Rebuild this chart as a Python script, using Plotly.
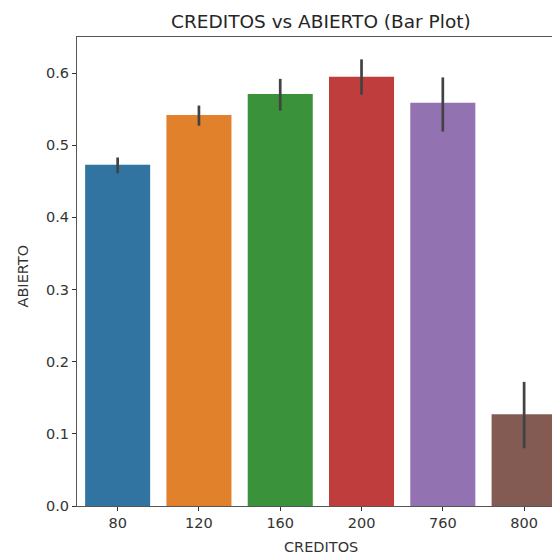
import plotly.graph_objects as go

categories = ["80", "120", "160", "200", "760", "800"]
means = [0.473, 0.542, 0.571, 0.595, 0.559, 0.127]
ci_low = [0.461, 0.527, 0.548, 0.570, 0.519, 0.080]
ci_high = [0.483, 0.555, 0.592, 0.619, 0.594, 0.172]
colors = ["#3274a1", "#e1812c", "#3a923a", "#c03d3e", "#9372b2", "#845b53"]

err_plus = [h - m for h, m in zip(ci_high, means)]
err_minus = [m - l for m, l in zip(means, ci_low)]

fig = go.Figure()
fig.add_trace(go.Bar(
    x=categories, y=means, width=0.8,
    marker=dict(color=colors, line=dict(width=0)),
    error_y=dict(type="data", symmetric=False, array=err_plus, arrayminus=err_minus,
                 color="#424242", thickness=2.7, width=0),
))

L, T, B = 77, 37, 50
W, H = 552, 556
plot_w = W - L
plot_h = H - T - B
center_px = (76.7 + 564.7) / 2

fig.update_layout(
    width=W, height=H,
    margin=dict(l=L, r=0, t=T, b=B, pad=0),
    paper_bgcolor="white", plot_bgcolor="white",
    showlegend=False,
    font=dict(family="DejaVu Sans", size=14.5, color="#262626"),
    bargap=0.2,
)
fig.update_xaxes(
    type="category", range=[-0.5, 5.343],
    showline=True, mirror=True, linecolor="#555555", linewidth=1,
    ticks="outside", ticklen=4, tickcolor="#333333", tickwidth=1,
    showgrid=False, zeroline=False,
    tickfont=dict(size=14.5, color="#333333"),
)
fig.update_yaxes(
    range=[0, 0.65], tickvals=[0, 0.1, 0.2, 0.3, 0.4, 0.5, 0.6],
    tickformat=".1f",
    showline=True, linecolor="#555555", linewidth=1,
    ticks="outside", ticklen=4, tickcolor="#333333", tickwidth=1,
    showgrid=False, zeroline=False,
    tickfont=dict(size=14.5, color="#333333"),
)

cx = (center_px - L) / plot_w
fig.add_annotation(text="CREDITOS vs ABIERTO (Bar Plot)", xref="paper", yref="paper",
                   x=cx, y=1 + (T - 22) / plot_h, xanchor="center", yanchor="middle",
                   showarrow=False, font=dict(size=18.5, color="#262626"))
fig.add_annotation(text="CREDITOS", xref="paper", yref="paper",
                   x=cx, y=-(547 - (H - B)) / plot_h, xanchor="center", yanchor="middle",
                   showarrow=False, font=dict(size=14.5, color="#333333"))
fig.add_annotation(text="ABIERTO", xref="paper", yref="paper",
                   x=-(L - 22) / plot_w, y=0.5 - 5 / plot_h, xanchor="center", yanchor="middle",
                   textangle=-90, showarrow=False, font=dict(size=14.5, color="#333333"))

fig.write_html("out.html")
